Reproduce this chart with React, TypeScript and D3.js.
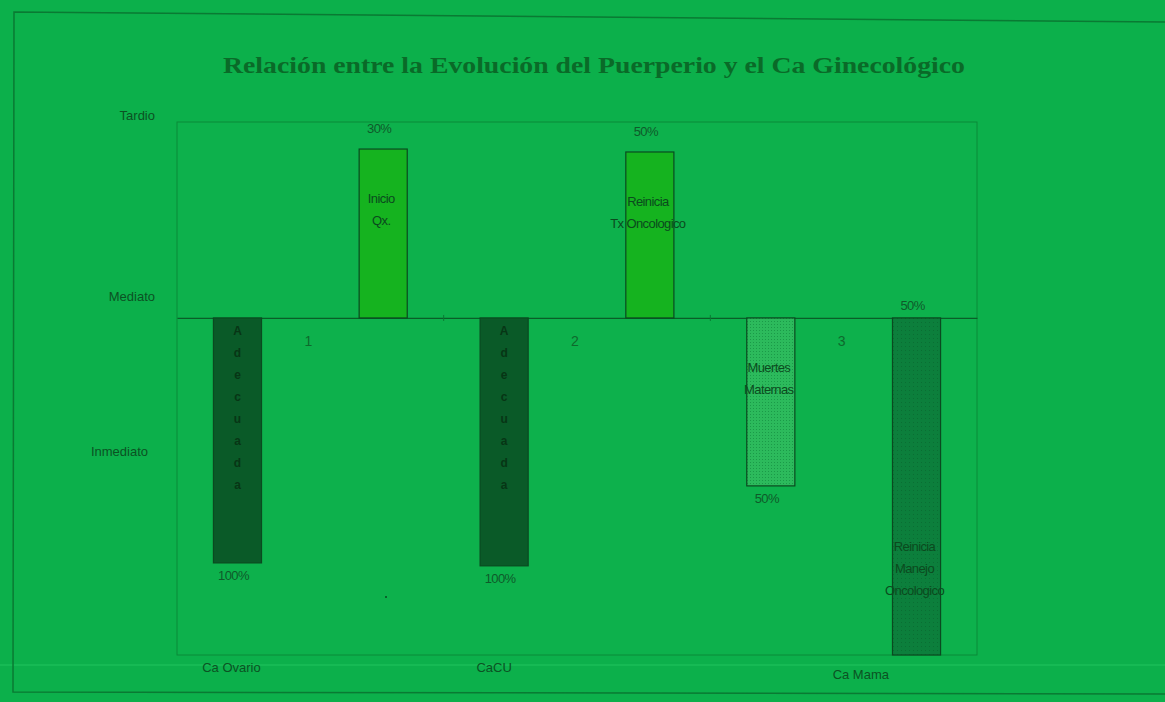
import React, { useEffect, useRef } from 'react';
import * as d3 from 'd3';

// groups along x
const groups = ['1', '2', '3'];
const groupNames = ['Ca Ovario', 'CaCU', 'Ca Mama'];

// bar heights (arbitrary units, + = later, - = inmediato)
const leftValues = [-1.25, -1.265, -0.857];
const rightValues = [0.862, 0.847, -1.72];
const leftPct = ['100%', '100%', '50%'];
const rightPct = ['30%', '50%', '50%'];
const leftText = [['Adecuada'], ['Adecuada'], ['Muertes', 'Maternas']];
const rightText = [['Inicio', 'Qx.'], ['Reinicia', 'Tx Oncologico'], ['Reinicia', 'Manejo', 'Oncologico']];

// y-axis category labels and their position on the value scale
const yLabels = ['Tardio', 'Mediato', 'Inmediato'];
const yLabelPos = [1.036, 0.112, -0.68];

const App: React.FC = () => {
  const svgRef = useRef<SVGSVGElement>(null);

  useEffect(() => {
    document.body.style.margin = '0';
    const svg = d3.select(svgRef.current);
    svg.selectAll('*').remove();

    const W = 1165, H = 702;
    const plot = { left: 177, right: 977, top: 122, bottom: 655 };
    const bg = '#0cb04b';
    const ink = '#0b5223';
    const sans = '"Liberation Sans", Arial, sans-serif';

    svg.attr('width', W).attr('height', H);

    const defs = svg.append('defs');
    const dots = defs.append('pattern')
      .attr('id', 'dots').attr('width', 3).attr('height', 3)
      .attr('patternUnits', 'userSpaceOnUse');
    dots.append('rect').attr('width', 3).attr('height', 3).attr('fill', '#2cba5c');
    dots.append('rect').attr('width', 1).attr('height', 1).attr('fill', '#1a9a48');
    const grain = defs.append('pattern')
      .attr('id', 'grain').attr('width', 4).attr('height', 4)
      .attr('patternUnits', 'userSpaceOnUse');
    grain.append('rect').attr('width', 4).attr('height', 4).attr('fill', '#0c7f3c');
    grain.append('rect').attr('x', 1).attr('y', 2).attr('width', 1).attr('height', 1).attr('fill', '#0a6e33');

    // background
    svg.append('rect').attr('width', W).attr('height', H).attr('fill', bg);
    svg.append('rect').attr('x', 0).attr('y', 664).attr('width', W).attr('height', 2)
      .attr('fill', '#1ec25a').attr('opacity', 0.6);

    // outer frame
    svg.append('path')
      .attr('d', `M1165,22 L14,12 L13,692 L1165,694`)
      .attr('fill', 'none').attr('stroke', '#0a7a33').attr('stroke-width', 1.5);

    // title
    svg.append('text')
      .attr('x', 594).attr('y', 73)
      .attr('text-anchor', 'middle')
      .attr('font-family', '"Liberation Serif", "Times New Roman", serif')
      .attr('font-weight', 'bold')
      .attr('font-size', 24)
      .attr('textLength', 742)
      .attr('lengthAdjust', 'spacingAndGlyphs')
      .attr('fill', '#0a6a28')
      .text('Relación entre la Evolución del Puerperio y el Ca Ginecológico');

    const x = d3.scaleBand<string>().domain(groups).range([plot.left, plot.right]);
    const inner = d3.scaleBand<string>().domain(['a', 'b'])
      .range([0, x.bandwidth()]).paddingInner(0.67).paddingOuter(0.25);
    const y = d3.scaleLinear().domain([-1.72, 1]).range([plot.bottom, plot.top]);

    // plot frame
    svg.append('rect')
      .attr('x', plot.left).attr('y', plot.top)
      .attr('width', plot.right - plot.left).attr('height', plot.bottom - plot.top)
      .attr('fill', '#0db14c').attr('stroke', '#0a8a38').attr('stroke-width', 1);

    // zero line with ticks at group boundaries
    const axis = svg.append('g').attr('transform', `translate(0,${y(0)})`)
      .call(d3.axisBottom(x).tickSize(0).tickFormat(() => ''));
    axis.select('.domain').attr('stroke', '#0a5e28').attr('stroke-width', 1.2);
    groups.slice(1).forEach(g => {
      svg.append('line')
        .attr('x1', x(g)!).attr('x2', x(g)!)
        .attr('y1', y(0) - 3).attr('y2', y(0) + 3)
        .attr('stroke', '#0a7a33');
    });

    // group numbers
    groups.forEach(g => {
      svg.append('text')
        .attr('x', x(g)! + x.bandwidth() / 2 - 2).attr('y', y(0) + 28)
        .attr('text-anchor', 'middle').attr('font-family', sans).attr('font-size', 14)
        .attr('fill', '#0d6a2c').text(g);
    });

    // group names
    const nameShift = [-6, -10, 90];
    groupNames.forEach((n, i) => {
      svg.append('text')
        .attr('x', x(groups[i])! + inner('a')! + inner.bandwidth() / 2 + nameShift[i])
        .attr('y', i === 2 ? 679 : 672)
        .attr('text-anchor', 'middle').attr('font-family', sans).attr('font-size', 13)
        .attr('fill', ink).text(n);
    });

    // y labels
    yLabels.forEach((l, i) => {
      svg.append('text')
        .attr('x', i === 2 ? 148 : 155).attr('y', y(yLabelPos[i]) + 5)
        .attr('text-anchor', 'end').attr('font-family', sans).attr('font-size', 13)
        .attr('fill', ink).text(l);
    });

    const leftFill = ['#0a5a28', '#0a5a28', 'url(#dots)'];
    const rightFill = ['#15b31f', '#15b31f', 'url(#grain)'];

    const drawBar = (gi: number, key: string, v: number, fill: string, pct: string, lines: string[]) => {
      const bx = x(groups[gi])! + inner(key)!;
      const bw = inner.bandwidth();
      const y0 = y(Math.max(0, v));
      const y1 = y(Math.min(0, v));
      svg.append('rect')
        .attr('x', bx).attr('y', y0).attr('width', bw).attr('height', y1 - y0)
        .attr('fill', fill).attr('stroke', '#0a4a20').attr('stroke-width', 1.2);

      const cx = bx + bw / 2;
      // percent label
      let py: number;
      if (v > 0) py = y0 - 16;
      else if (y(v) >= plot.bottom - 1) py = y(0) - 8;
      else py = y1 + 17;
      svg.append('text')
        .attr('x', cx - 4).attr('y', py).attr('text-anchor', 'middle')
        .attr('font-family', sans).attr('font-size', 13).attr('letter-spacing', -0.6)
        .attr('fill', '#0f5a2a').text(pct);

      // text in bar
      if (lines.length === 1 && lines[0] === 'Adecuada') {
        lines[0].split('').forEach((c, k) => {
          svg.append('text')
            .attr('x', cx).attr('y', y(0) + 17 + k * 22).attr('text-anchor', 'middle')
            .attr('font-family', sans).attr('font-size', 12).attr('font-weight', 'bold')
            .attr('fill', '#073515').text(c);
        });
      } else {
        const startY = v > 0 ? y0 + 54 : (y(v) >= plot.bottom - 1 ? y1 - 104 : y0 + 54);
        lines.forEach((t, k) => {
          svg.append('text')
            .attr('x', cx - 2).attr('y', startY + k * 22).attr('text-anchor', 'middle')
            .attr('font-family', sans).attr('font-size', 13).attr('letter-spacing', -0.6)
            .attr('fill', '#0b4a1e').text(t);
        });
      }
    };

    groups.forEach((_, i) => {
      drawBar(i, 'a', leftValues[i], leftFill[i], leftPct[i], leftText[i]);
      drawBar(i, 'b', rightValues[i], rightFill[i], rightPct[i], rightText[i]);
    });

    svg.append('circle').attr('cx', 386).attr('cy', 597).attr('r', 1).attr('fill', '#0a4a20');
  }, []);

  return <svg ref={svgRef} style={{ display: 'block' }} />;
};

export default App;
